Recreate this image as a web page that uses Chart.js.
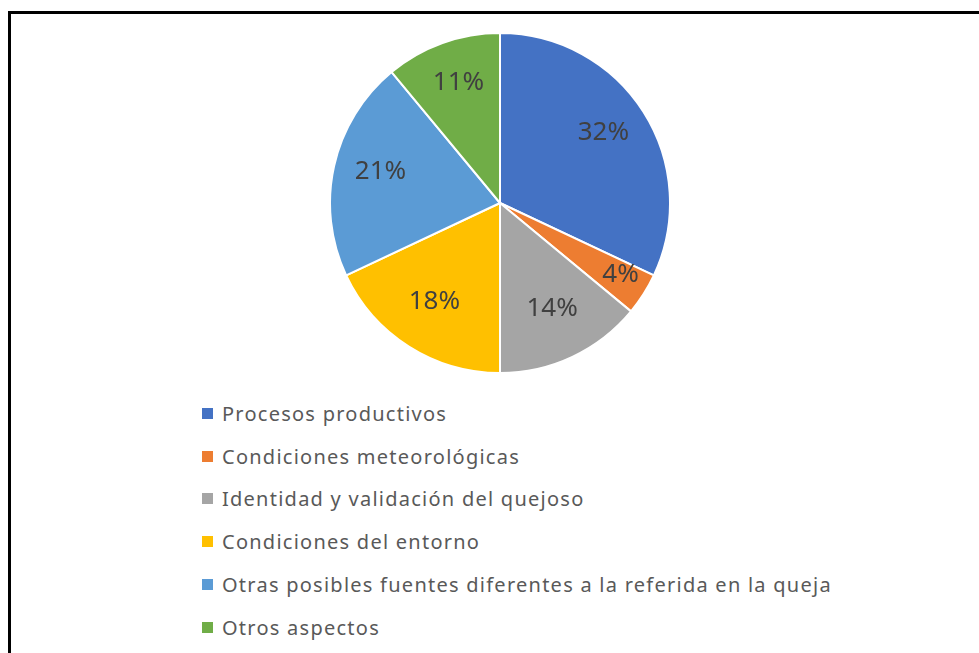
<!DOCTYPE html>
<html>
<head>
<meta charset="utf-8">
<script src="https://cdn.jsdelivr.net/npm/chart.js@4.4.1/dist/chart.umd.min.js"></script>
<style>
    body { margin: 0; background: #fff; width: 979px; height: 653px; overflow: hidden; position: relative; font-family: "Noto Sans", sans-serif; }
    #frame { position: absolute; left: 8px; top: 11px; width: 1000px; height: 700px; border: 3px solid #000; box-sizing: border-box; }
    #pieWrap { position: absolute; left: 329px; top: 32px; width: 342px; height: 342px; }
    #legend { position: absolute; left: 202px; top: 392px; }
    #legend ul { list-style: none; margin: 0; padding: 0; }
    #legend li { display: flex; align-items: center; height: 42.8px; font-size: 20px; letter-spacing: 1.25px; color: #595959; white-space: nowrap; }
    #legend li span { display: inline-block; width: 11px; height: 11px; margin-right: 9px; flex: none; }
</style>
</head>
<body>
<div id="frame"></div>
<div id="pieWrap"><canvas id="causesChart"></canvas></div>
<div id="legend"></div>

<script>
// causes of the complaint, share in %
const categories = [
    'Procesos productivos',
    'Condiciones meteorológicas',
    'Identidad y validación del quejoso',
    'Condiciones del entorno',
    'Otras posibles fuentes diferentes a la referida en la queja',
    'Otros aspectos'
];
const shares = [32, 4, 14, 18, 21, 11];
const sliceColors = ['#4472C4', '#ED7D31', '#A5A5A5', '#FFC000', '#5B9BD5', '#70AD47'];


// percent labels inside the slices
const pctLabels = {
    id: 'pctLabels',
    afterDatasetsDraw(chart) {
        const ctx = chart.ctx;
        const meta = chart.getDatasetMeta(0);
        const data = chart.data.datasets[0].data;
        const total = data.reduce((a, b) => a + b, 0);
        const size = 26;

        ctx.save();
        ctx.font = size + 'px "Noto Sans"';
        ctx.fillStyle = '#404040';
        ctx.textAlign = 'center';
        ctx.textBaseline = 'alphabetic';

        meta.data.forEach((arc, i) => {
            const p = arc.getProps(['startAngle', 'endAngle', 'outerRadius', 'x', 'y'], true);
            const mid = (p.startAngle + p.endAngle) / 2;
            const share = data[i] / total;
            const r = p.outerRadius * (share < 0.06 ? 0.84 : 0.72);
            ctx.fillText(Math.round(share * 100) + '%', p.x + Math.cos(mid) * r, p.y + Math.sin(mid) * r + size * 0.1);
        });
        ctx.restore();
    }
};


// legend as html list, one item per row
const htmlLegend = {
    id: 'htmlLegend',
    afterUpdate(chart) {
        const box = document.getElementById('legend');
        box.innerHTML = '';
        const ul = document.createElement('ul');

        const items = chart.options.plugins.legend.labels.generateLabels(chart);
        items.forEach(item => {
            const li = document.createElement('li');
            const swatch = document.createElement('span');
            swatch.style.background = item.fillStyle;
            li.appendChild(swatch);
            li.appendChild(document.createTextNode(item.text));
            ul.appendChild(li);
        });
        box.appendChild(ul);
    }
};


const ctx = document.getElementById('causesChart').getContext('2d');

new Chart(ctx, {
    type: 'pie',
    data: {
        labels: categories,
        datasets: [{
            data: shares,
            backgroundColor: sliceColors,
            borderColor: '#ffffff',
            borderWidth: 2,
            hoverOffset: 0
        }]
    },
    options: {
        responsive: true,
        maintainAspectRatio: false,
        animation: false,
        layout: { padding: 0 },
        plugins: {
            legend: { display: false },
            tooltip: { enabled: false }
        }
    },
    plugins: [pctLabels, htmlLegend]
});
</script>
</body>
</html>
